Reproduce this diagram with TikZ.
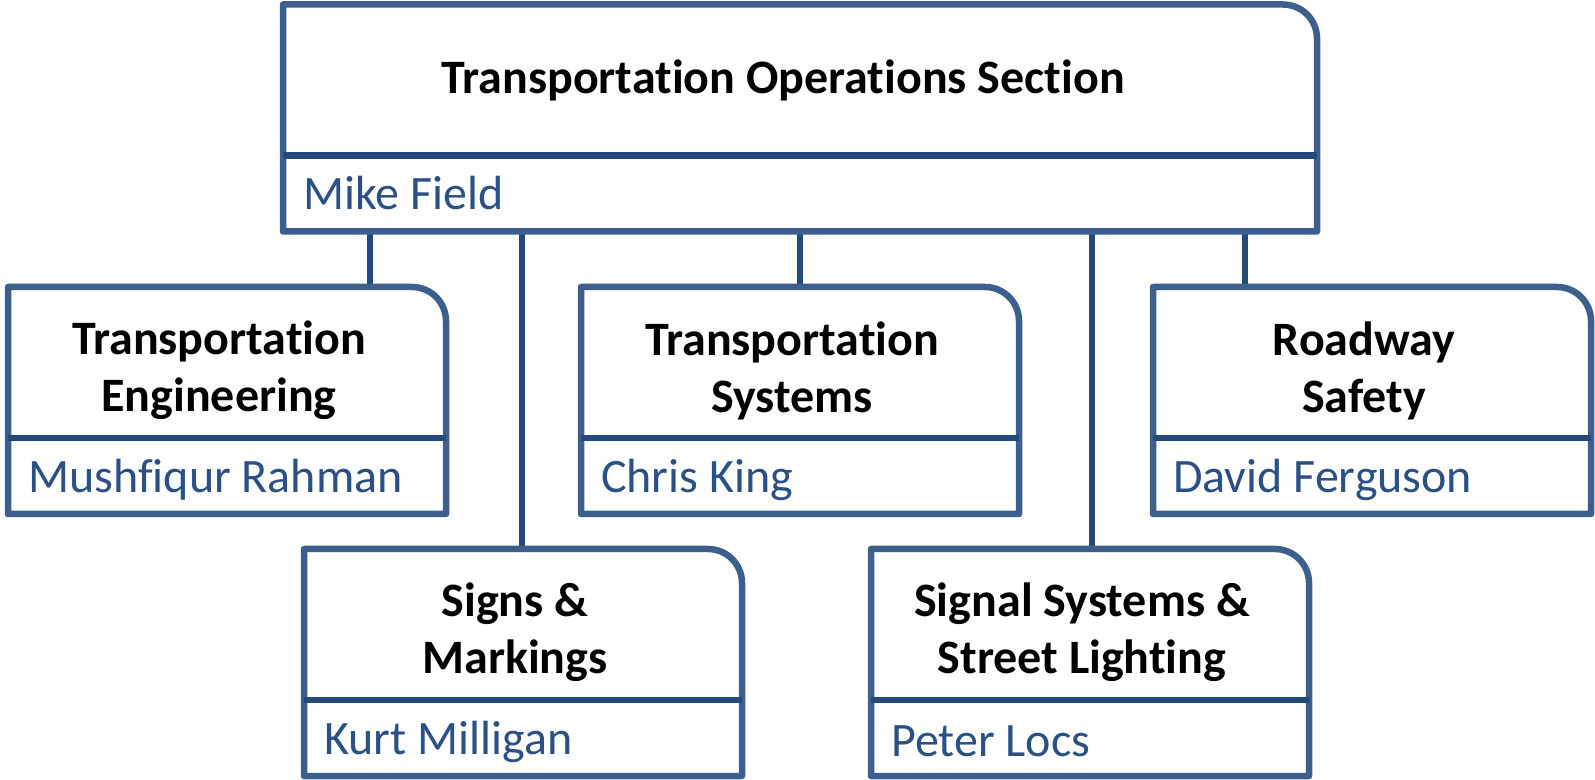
\documentclass[tikz,border=0pt]{standalone}
\usepackage{fontspec}
\setmainfont{Carlito}[Ligatures=NoCommon]
\usetikzlibrary{calc}
\definecolor{boxblue}{HTML}{3C5F8E}
\definecolor{darkblue}{HTML}{24497B}
\definecolor{nameblue}{HTML}{2A5085}
\tikzset{
  frame/.style={draw=none, minimum height=227pt, inner sep=0pt, outer sep=0pt},
  outline/.style={draw=boxblue, line width=6.5pt, line join=round},
  divider/.style={draw=darkblue, line width=6.5pt},
  link/.style={draw=darkblue, line width=5.5pt},
  headtext/.style={font=\bfseries\fontsize{48}{57}\selectfont, align=center, text=black, inner sep=0pt},
  nametext/.style={font=\fontsize{48}{57}\selectfont, text=nameblue, anchor=west, inner sep=0pt},
}
% name, center, width, header text, person, header x offset, header y offset, name y offset
\newcommand{\orgbox}[8]{%
  \node[frame, minimum width=#3] (#1) at #2 {};
  \fill[white] (#1.south west) rectangle (#1.north east);
  \draw[outline] (#1.south west) -- (#1.north west) -- ([xshift=-34pt]#1.north east)
     arc[start angle=90, end angle=0, radius=34pt] -- (#1.south east) -- cycle;
  \coordinate (#1-dl) at ([yshift=-151pt]#1.north west);
  \coordinate (#1-dr) at ([yshift=-151pt]#1.north east);
  \draw[divider] (#1-dl) -- (#1-dr);
  \node[headtext] (#1-head) at ([xshift=#6, yshift=-75.5pt+#7]#1.north) {#4};
  \node[nametext] (#1-name) at ([xshift=20pt, yshift=-37.5pt+#8]#1-dl) {#5};
}
\begin{document}
\begin{tikzpicture}[x=1pt,y=1pt]
\useasboundingbox (0,0) rectangle (1595,779);
\node[frame, minimum width=1034pt] (topref) at (800,661) {};
\node[frame, minimum width=438pt] (b1ref) at (227,378.5) {};
\node[frame, minimum width=438pt] (b2ref) at (800,378.5) {};
\node[frame, minimum width=438pt] (b3ref) at (1372,378.5) {};
\node[frame, minimum width=438pt] (b4ref) at (523,116.5) {};
\node[frame, minimum width=438pt] (b5ref) at (1090,116.5) {};
% connectors
\draw[link] ([xshift=143pt]b1ref.north) -- ([xshift=143pt]b1ref.north |- topref.south);
\draw[link] ([xshift=-1pt]b4ref.north) -- ([xshift=-1pt]b4ref.north |- topref.south);
\draw[link] (b2ref.north) -- (b2ref.north |- topref.south);
\draw[link] ([xshift=2pt]b5ref.north) -- ([xshift=2pt]b5ref.north |- topref.south);
\draw[link] ([xshift=-127pt]b3ref.north) -- ([xshift=-127pt]b3ref.north |- topref.south);
% boxes
\orgbox{top}{(800,661)}{1034pt}{Transportation Operations Section}{Mike Field}{-17pt}{0pt}{0pt}
\orgbox{b1}{(227,378.5)}{438pt}{Transportation\\Engineering}{Mushfiqur Rahman}{-8pt}{-8pt}{-4pt}
\orgbox{b2}{(800,378.5)}{438pt}{Transportation\\Systems}{Chris King}{-8pt}{-8pt}{-4pt}
\orgbox{b3}{(1372,378.5)}{438pt}{Roadway\\Safety}{David Ferguson}{-8pt}{-8pt}{-4pt}
\orgbox{b4}{(523,116.5)}{438pt}{Signs \&\\Markings}{Kurt Milligan}{-8pt}{-8pt}{-4pt}
\orgbox{b5}{(1090,116.5)}{438pt}{Signal Systems \&\\Street Lighting}{Peter Locs}{-8pt}{-8pt}{-4pt}
\end{tikzpicture}
\end{document}
